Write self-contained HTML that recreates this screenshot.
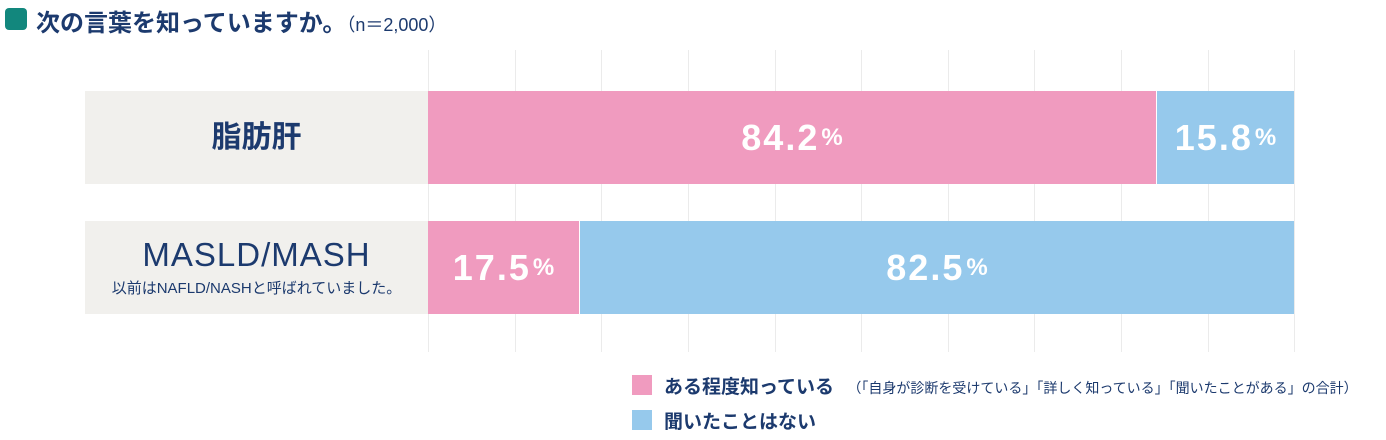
<!DOCTYPE html>
<html><head><meta charset="utf-8"><style>
*{margin:0;padding:0;box-sizing:border-box}
body{width:1386px;height:440px;background:#fff;position:relative;overflow:hidden;font-family:"Liberation Sans","Noto Sans CJK JP",sans-serif;color:#1c3a6e}
.a{position:absolute}
.g{position:absolute;top:50px;height:302px;width:1px;background:#ebebeb}
.lab{position:absolute;left:85px;width:343px;height:93px;background:#f1f0ed;text-align:center}
.bar{position:absolute;height:93px;color:#fff;font-weight:bold;font-size:36px;display:flex;align-items:center;justify-content:center;letter-spacing:2px}
.bar small{font-size:24px;margin-left:2px;letter-spacing:0}
.p{background:#f09bbf}.b{background:#96c9ec}
</style></head><body>
<div class="a" style="left:5px;top:8px;width:22px;height:22px;background:#12877d;border-radius:4px"></div>
<div class="a" style="left:36px;top:3px;font-size:24px;font-weight:bold;white-space:nowrap">次の言葉を知っていますか。<span style="font-size:18px;font-weight:normal">（n＝2,000）</span></div>

<div class="g" style="left:428px"></div><div class="g" style="left:515px"></div><div class="g" style="left:601px"></div><div class="g" style="left:688px"></div><div class="g" style="left:775px"></div><div class="g" style="left:861px"></div><div class="g" style="left:948px"></div><div class="g" style="left:1034px"></div><div class="g" style="left:1121px"></div><div class="g" style="left:1208px"></div><div class="g" style="left:1294px"></div>

<div class="lab" style="top:91px;line-height:93px;font-size:30px;font-weight:bold">脂肪肝</div>
<div class="bar p" style="left:428px;top:91px;width:728px">84.2<small>%</small></div>
<div class="bar b" style="left:1157px;top:91px;width:137px">15.8<small>%</small></div>

<div class="lab" style="top:221px">
<div style="font-size:33px;margin-top:14px;line-height:40px;letter-spacing:1px">MASLD/MASH</div>
<div style="font-size:15px;line-height:20px;margin-top:4px">以前はNAFLD/NASHと呼ばれていました。</div>
</div>
<div class="bar p" style="left:428px;top:221px;width:151px">17.5<small>%</small></div>
<div class="bar b" style="left:580px;top:221px;width:714px">82.5<small>%</small></div>

<div class="a" style="left:632px;top:375px;width:20px;height:20px;background:#f09bbf"></div>
<div class="a" style="left:664px;top:372px;font-size:19px;font-weight:bold;white-space:nowrap">ある程度知っている <span style="font-size:14px;font-weight:normal;margin-left:8px">（「自身が診断を受けている」「詳しく知っている」「聞いたことがある」の合計）</span></div>
<div class="a" style="left:632px;top:410px;width:20px;height:20px;background:#96c9ec"></div>
<div class="a" style="left:664px;top:407px;font-size:19px;font-weight:bold;white-space:nowrap">聞いたことはない</div>
</body></html>
